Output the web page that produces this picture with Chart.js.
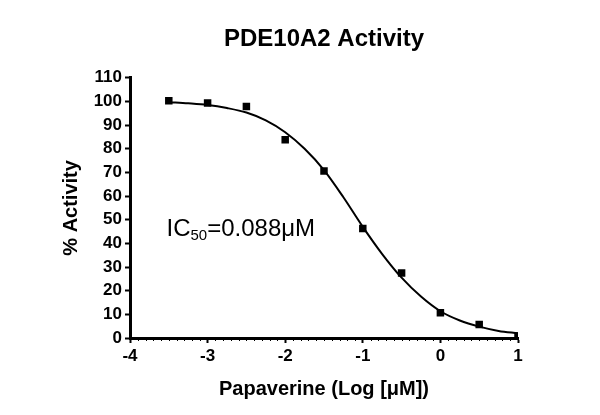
<!DOCTYPE html>
<html lang="en">
<head>
<meta charset="UTF-8">
<title>PDE10A2 Activity</title>
<script src="https://cdn.jsdelivr.net/npm/chart.js@4.4.0/dist/chart.umd.min.js"></script>
<style>
  html, body { margin: 0; padding: 0; background: #fff; }
  #wrap { width: 600px; height: 415px; }
</style>
</head>
<body>
<div id="wrap"><canvas id="myChart" width="600" height="415"></canvas></div>
<script>
// measured points, log [uM] vs % activity
const logConc = [-3.5, -3, -2.5, -2, -1.5, -1, -0.5, 0, 0.5, 1];
const activity = [100.3, 99.3, 97.9, 83.8, 70.6, 46.3, 27.5, 10.7, 5.7, 0.8];

// fitted curve
const fitX = [-3.5, -3.25, -3, -2.75, -2.5, -2.25, -2, -1.75, -1.5, -1.25, -1, -0.75, -0.5, -0.25, 0, 0.25, 0.5, 0.75, 1];
const fitY = [99.7, 99.2, 98.5, 97.2, 95.3, 92, 87, 80, 71, 59.5, 47, 35.5, 25.5, 17.5, 11.3, 7.4, 4.8, 3, 2];

const xTicks = [-4, -3, -2, -1, 0, 1];
const yTicks = [0, 10, 20, 30, 40, 50, 60, 70, 80, 90, 100, 110];

const FONT = "'Liberation Sans', Arial, sans-serif";

// small ticks every 0.1 on the x axis
const minorTicks = {
  id: 'minorTicks',
  afterDraw(chart) {
    const x = chart.scales.x;
    const ctx = chart.ctx;
    const bottom = chart.chartArea.bottom;
    ctx.save();
    ctx.strokeStyle = '#000';
    ctx.lineWidth = 1;
    for (let i = -40; i <= 10; i++) {
      if (i % 10 === 0) continue;
      const px = Math.round(x.getPixelForValue(i / 10)) + 0.5;
      ctx.beginPath();
      ctx.moveTo(px, bottom);
      ctx.lineTo(px, bottom + 3);
      ctx.stroke();
    }
    ctx.restore();
  }
};

// IC50 label
const icLabel = {
  id: 'icLabel',
  afterDraw(chart) {
    const ctx = chart.ctx;
    const px = chart.scales.x.getPixelForValue(-3.53);
    const py = chart.scales.y.getPixelForValue(43);
    ctx.save();
    ctx.fillStyle = '#000';
    ctx.textBaseline = 'alphabetic';
    ctx.textAlign = 'left';
    ctx.font = '24px ' + FONT;
    ctx.fillText('IC', px, py);
    let w = ctx.measureText('IC').width;
    ctx.font = '15px ' + FONT;
    ctx.fillText('50', px + w, py + 4);
    w += ctx.measureText('50').width;
    ctx.font = '24px ' + FONT;
    ctx.fillText('=0.088\u03bcM', px + w, py);
    ctx.restore();
  }
};

const ctx = document.getElementById('myChart').getContext('2d');
const myChart = new Chart(ctx, {
  type: 'scatter',
  data: {
    datasets: [{
      label: 'fit',
      type: 'line',
      data: fitX.map((v, i) => ({ x: v, y: fitY[i] })),
      borderColor: '#000',
      borderWidth: 2,
      pointRadius: 0,
      fill: false,
      cubicInterpolationMode: 'monotone',
      order: 2
    }, {
      label: 'PDE10A2',
      data: logConc.map((v, i) => ({ x: v, y: activity[i] })),
      pointStyle: 'rect',
      pointRadius: 5.3,
      backgroundColor: '#000',
      borderColor: '#000',
      borderWidth: 0,
      order: 1
    }]
  },
  options: {
    responsive: false,
    animation: false,
    layout: { padding: { top: 10, right: 82, left: 0, bottom: 0 } },
    plugins: {
      legend: { display: false },
      tooltip: { enabled: false },
      title: {
        display: true,
        fullSize: false,
        text: 'PDE10A2 Activity',
        color: '#000',
        font: { family: FONT, size: 24, weight: 'bold' },
        padding: { top: 15, bottom: 24 }
      }
    },
    scales: {
      x: {
        type: 'linear',
        min: -4,
        max: 1,
        afterFit(s) { s.height = 77; },
        afterBuildTicks(s) { s.ticks = xTicks.map(v => ({ value: v })); },
        ticks: {
          color: '#000',
          padding: 3,
          font: { family: FONT, size: 17, weight: 'bold' },
          callback: v => String(v)
        },
        grid: { drawOnChartArea: false, tickLength: 5, tickWidth: 2, tickColor: '#000' },
        border: { color: '#000', width: 3 },
        title: {
          display: true,
          text: 'Papaverine (Log [\u03bcM])',
          color: '#000',
          font: { family: FONT, size: 20, weight: 'bold' },
          padding: { top: 0, bottom: 14 }
        }
      },
      y: {
        min: 0,
        max: 110,
        afterFit(s) { s.width = 130; },
        afterBuildTicks(s) { s.ticks = yTicks.map(v => ({ value: v })); },
        ticks: {
          color: '#000',
          padding: 3,
          font: { family: FONT, size: 17, weight: 'bold' }
        },
        grid: { drawOnChartArea: false, tickLength: 5, tickWidth: 2, tickColor: '#000' },
        border: { color: '#000', width: 3 },
        title: {
          display: true,
          text: '% Activity',
          color: '#000',
          font: { family: FONT, size: 20, weight: 'bold' },
          padding: { top: 59, bottom: 0 }
        }
      }
    }
  },
  plugins: [minorTicks, icLabel]
});
</script>
</body>
</html>
